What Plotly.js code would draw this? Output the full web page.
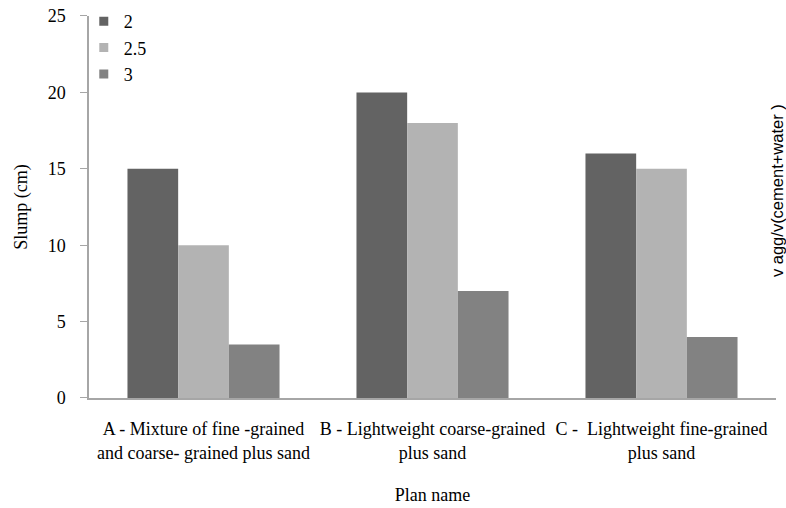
<!DOCTYPE html>
<html><head><meta charset="utf-8">
<script src="https://cdn.plot.ly/plotly-3.0.1.min.js"></script>
<style>body{margin:0;background:#fff}#c{width:786px;height:508px}</style>
</head><body><div id="c"></div>
<script>
var categories = ["A - Mixture of fine -grained<br>and coarse- grained plus sand", "B - Lightweight coarse-grained<br>plus sand", "C -  Lightweight fine-grained<br>plus sand"];
var seriesNames = ["2", "2.5", "3"];
var values2 = [15, 20, 16];
var values25 = [10, 18, 15];
var values3 = [3.5, 7, 4];
var colors = ["#636363", "#b3b3b3", "#828282"];
var allValues = [values2, values25, values3];
var traces = allValues.map(function(v, i){
  return {type:"bar", x:categories, y:v, name:seriesNames[i], marker:{color:colors[i]}, showlegend:false};
});
allValues.forEach(function(v, i){
  traces.push({type:"scatter", mode:"markers", x:[categories[0]], y:[null], name:seriesNames[i],
    marker:{symbol:"square", size:9, color:colors[i]}, showlegend:true});
});
var serif = "'Liberation Serif', 'Times New Roman', serif";
var font = {family:serif, size:18, color:"#000"};
var layout = {
  width:786, height:508,
  margin:{l:89, r:10, t:0, b:110},
  paper_bgcolor:"#fff", plot_bgcolor:"#fff",
  font:font,
  barmode:"group", bargap:0.336, bargroupgap:0,
  showlegend:true,
  legend:{x:-0.0076, y:0.9925, xanchor:"left", yanchor:"top", font:font, bgcolor:"rgba(0,0,0,0)", tracegroupgap:0, itemwidth:30, traceorder:"normal"},
  xaxis:{showline:true, linecolor:"#a6a6a6", linewidth:1.5, ticks:"outside", ticklen:14, tickcolor:"rgba(0,0,0,0)", tickfont:font,
         title:{text:"Plan name", font:font, standoff:27}, automargin:false},
  yaxis:{domain:[0, 0.9598], range:[0,25], dtick:5, showline:true, linecolor:"#a6a6a6", linewidth:1.5, ticks:"outside", ticklen:7, tickcolor:"#a6a6a6", ticklabelstandoff:11,
         showgrid:false, zeroline:false, tickfont:font, title:{text:"Slump (cm)", font:font, standoff:15}, automargin:false},
  annotations:[{text:"v agg/v(cement+water )", xref:"paper", yref:"paper", x:1.0015, y:0.52, textangle:-90, showarrow:false,
    font:{family:"'Liberation Sans', Arial, sans-serif", size:16.5, color:"#000"}, xanchor:"center", yanchor:"middle"}]
};
Plotly.newPlot("c", traces, layout, {displayModeBar:false});
</script></body></html>
